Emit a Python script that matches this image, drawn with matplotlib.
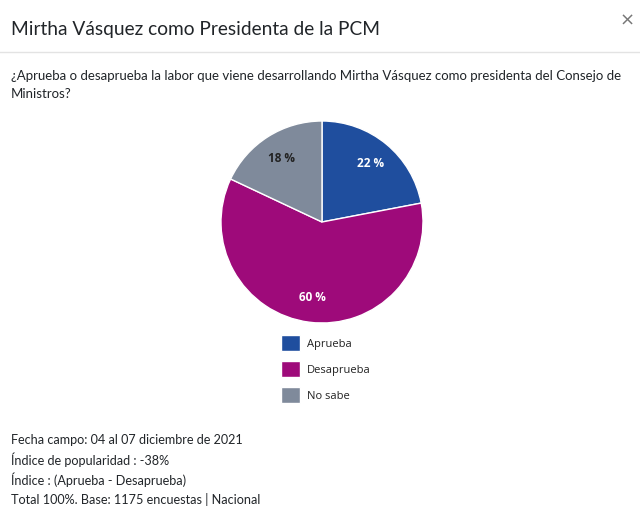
import matplotlib
matplotlib.use("Agg")
import matplotlib.pyplot as plt
from matplotlib.lines import Line2D

categories = ["Aprueba", "Desaprueba", "No sabe"]
values = [22, 60, 18]
colors = ["#1f4e9e", "#9e0a7a", "#7f8a9b"]
label_colors = ["white", "white", "#222222"]

title = "Mirtha Vásquez como Presidenta de la PCM"
question = ("¿Aprueba o desaprueba la labor que viene desarrollando Mirtha Vásquez como presidenta del Consejo de\n"
            "Ministros?")
footer = ["Fecha campo: 04 al 07 diciembre de 2021",
          "Índice de popularidad : -38%",
          "Índice : (Aprueba - Desaprueba)",
          "Total 100%. Base: 1175 encuestas | Nacional"]

W, H = 640, 516
fig = plt.figure(figsize=(W / 100, H / 100), dpi=100)
fig.patch.set_facecolor("white")
FONT = "Lato"

def fx(x):
    return x / W

def fy(y):
    return 1 - y / H

# header
fig.text(fx(11), fy(30), title, fontsize=13.8, family=FONT, color="#212529", va="center", ha="left")
fig.text(fx(627), fy(21), "×", fontsize=13, family="DejaVu Sans", color="#777777", va="center", ha="center")
fig.add_artist(Line2D([0, 1], [fy(52), fy(52)], color="#e3e3e3", lw=1))
fig.text(fx(11), fy(85), question, fontsize=9.5, family=FONT, color="#212529", va="center", ha="left",
         linespacing=1.55)

# pie
cx, cy, r = 322, 222, 101
ax = fig.add_axes([fx(cx - r), fy(cy + r), 2 * r / W, 2 * r / H])
wedges, texts, autotexts = ax.pie(values, colors=colors, startangle=90, counterclock=False,
                                  autopct=lambda p: f"{p:.0f} %", pctdistance=0.75,
                                  wedgeprops=dict(edgecolor="white", linewidth=1))
for t, c in zip(autotexts, label_colors):
    t.set_color(c)
    t.set_fontsize(8.5)
    t.set_fontweight("bold")
    t.set_family("Open Sans")
ax.set_xlim(-1, 1)
ax.set_ylim(-1, 1)
ax.set_aspect("equal")
ax.axis("off")

fs = 8
leg = fig.legend(wedges, categories, loc="upper left", bbox_to_anchor=(fx(281), fy(335)),
                 frameon=False, prop=dict(family="Open Sans", size=fs),
                 handlelength=1.75, handleheight=1.9, labelspacing=0.85, handletextpad=0.6,
                 borderpad=0, borderaxespad=0)
for t in leg.get_texts():
    t.set_color("#222222")

# footer
for i, line in enumerate(footer):
    fig.text(fx(11), fy(440 + i * 19.8), line, fontsize=9.1, family=FONT, color="#212529",
             va="center", ha="left")

fig.savefig("out.png", dpi=100, facecolor="white")
